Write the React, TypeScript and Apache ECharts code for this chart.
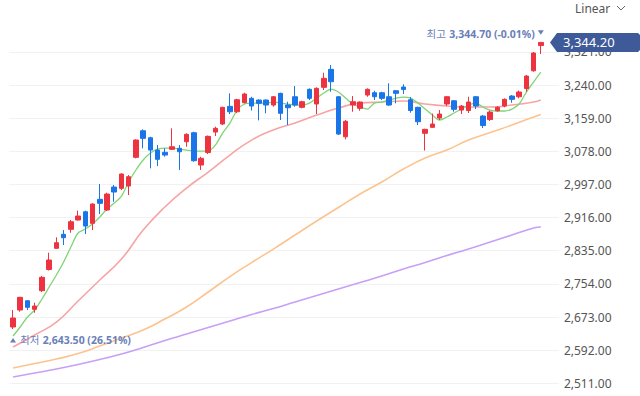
import React, { useEffect, useRef } from 'react';
import * as echarts from 'echarts';

// [open, close, low, high]
const ohlc: number[][] = [
  [2648.6, 2670.5, 2643.5, 2690.1],
  [2690.1, 2721.1, 2686.0, 2722.4],
  [2712.8, 2696.7, 2690.1, 2714.5],
  [2691.8, 2699.9, 2683.5, 2708.0],
  [2737.3, 2770.0, 2734.1, 2773.2],
  [2789.1, 2812.3, 2786.6, 2830.1],
  [2840.9, 2854.6, 2840.4, 2867.8],
  [2875.1, 2866.8, 2849.0, 2885.6],
  [2887.3, 2905.9, 2879.0, 2910.1],
  [2910.1, 2919.8, 2908.9, 2932.8],
  [2930.3, 2895.4, 2875.8, 2932.8],
  [2902.0, 2949.2, 2885.6, 2950.9],
  [2960.7, 2950.9, 2924.7, 2998.0],
  [2934.5, 2973.6, 2932.1, 2976.8],
  [2990.7, 2978.5, 2954.8, 2995.6],
  [2987.5, 3022.5, 2983.4, 3024.2],
  [2993.2, 3015.9, 2971.2, 3020.0],
  [3063.3, 3105.6, 3060.9, 3107.3],
  [3128.3, 3109.7, 3085.3, 3131.7],
  [3111.2, 3081.1, 3036.4, 3113.6],
  [3081.1, 3058.4, 3042.0, 3093.4],
  [3075.5, 3068.9, 3064.8, 3085.3],
  [3082.8, 3089.2, 3081.1, 3134.2],
  [3085.3, 3077.0, 3032.3, 3093.4],
  [3101.4, 3119.5, 3089.2, 3122.0],
  [3123.4, 3055.0, 3052.5, 3125.9],
  [3044.5, 3060.9, 3032.3, 3064.8],
  [3075.0, 3114.6, 3071.4, 3116.6],
  [3125.1, 3134.2, 3115.4, 3138.1],
  [3144.7, 3185.5, 3142.2, 3187.0],
  [3187.9, 3174.7, 3169.1, 3219.7],
  [3174.7, 3204.1, 3171.6, 3206.5],
  [3196.7, 3218.0, 3195.3, 3221.2],
  [3207.5, 3188.7, 3177.7, 3211.4],
  [3203.3, 3195.3, 3153.7, 3205.0],
  [3203.3, 3191.1, 3170.8, 3205.0],
  [3191.1, 3211.4, 3187.0, 3213.1],
  [3219.7, 3170.8, 3154.5, 3221.2],
  [3191.1, 3184.5, 3142.2, 3199.2],
  [3211.4, 3191.1, 3187.0, 3237.6],
  [3185.5, 3199.2, 3183.1, 3201.6],
  [3229.5, 3207.5, 3203.3, 3231.9],
  [3193.6, 3231.9, 3169.1, 3234.4],
  [3234.4, 3256.4, 3227.8, 3270.1],
  [3278.4, 3248.1, 3223.6, 3288.9],
  [3211.4, 3120.2, 3117.8, 3213.1],
  [3113.6, 3151.3, 3107.3, 3154.5],
  [3191.1, 3199.2, 3174.7, 3213.1],
  [3183.1, 3198.5, 3177.2, 3199.7],
  [3215.6, 3229.5, 3211.4, 3231.9],
  [3221.2, 3211.4, 3203.3, 3226.1],
  [3221.2, 3207.5, 3203.3, 3223.6],
  [3211.4, 3191.1, 3188.7, 3244.2],
  [3226.1, 3219.7, 3195.3, 3227.8],
  [3235.1, 3229.0, 3218.0, 3241.7],
  [3204.1, 3177.7, 3172.3, 3210.7],
  [3185.5, 3150.3, 3142.2, 3187.0],
  [3122.0, 3131.7, 3079.9, 3133.2],
  [3136.6, 3144.7, 3136.1, 3170.3],
  [3159.3, 3169.1, 3154.5, 3178.9],
  [3193.6, 3211.4, 3188.7, 3213.1],
  [3201.6, 3180.6, 3174.7, 3203.3],
  [3178.9, 3188.7, 3169.1, 3191.1],
  [3177.7, 3198.5, 3171.6, 3211.4],
  [3211.4, 3188.7, 3181.3, 3213.1],
  [3164.2, 3141.0, 3134.9, 3166.7],
  [3155.7, 3174.0, 3152.0, 3177.7],
  [3177.2, 3185.5, 3174.7, 3188.7],
  [3188.7, 3205.0, 3185.5, 3207.5],
  [3213.1, 3205.0, 3196.7, 3215.6],
  [3211.4, 3222.9, 3207.5, 3226.6],
  [3231.4, 3262.0, 3223.6, 3264.4],
  [3274.9, 3318.2, 3272.5, 3320.7],
  [3336.5, 3344.2, 3315.8, 3344.7],
];

const ma5 = [
  2626.6, 2648.6, 2673.0, 2690.1, 2717.0, 2746.3, 2775.6, 2807.4, 2844.1, 2878.3,
  2888.1, 2900.3, 2917.4, 2936.9, 2951.6, 2968.7, 3002.9, 3032.3, 3056.7, 3073.8,
  3083.6, 3086.0, 3086.0, 3083.6, 3081.1, 3078.7, 3078.7, 3078.7, 3093.4, 3122.7,
  3147.1, 3178.9, 3193.6, 3196.0, 3196.0, 3196.0, 3198.5, 3196.0, 3193.6, 3191.1,
  3191.1, 3196.0, 3208.2, 3220.4, 3230.2, 3222.9, 3208.2, 3193.6, 3186.2, 3181.3,
  3196.0, 3198.5, 3203.3, 3208.2, 3210.7, 3208.2, 3196.0, 3181.3, 3166.7, 3154.5,
  3161.8, 3171.6, 3181.3, 3191.1, 3196.0, 3186.2, 3178.9, 3176.5, 3176.5, 3181.3,
  3193.6, 3222.9, 3247.3, 3271.8,
];

// [candle index, value]
const ma20: number[][] = [
  [0, 2599.6], [3, 2629.0], [6, 2660.7], [9, 2712.1], [12, 2763.4], [15, 2814.7],
  [18, 2885.6], [21, 2941.8], [24, 2988.2], [27, 3027.3], [30, 3068.9], [33, 3105.5],
  [36, 3130.0], [39, 3147.1], [42, 3166.6], [45, 3183.7], [48, 3196.0], [51, 3198.4],
  [54, 3200.9], [57, 3193.5], [60, 3188.6], [63, 3186.2], [66, 3186.2], [69, 3191.1],
  [72, 3198.4], [73, 3203.3],
];
const ma60: number[][] = [
  [0, 2548.3], [3, 2559.3], [6, 2570.3], [9, 2583.7], [12, 2602.1], [15, 2621.6],
  [18, 2641.2], [21, 2668.1], [24, 2697.4], [27, 2734.1], [30, 2771.9], [33, 2806.1],
  [36, 2839.1], [39, 2873.4], [42, 2907.6], [45, 2940.6], [48, 2973.6], [51, 3002.9],
  [54, 3034.7], [57, 3061.5], [60, 3081.1], [63, 3105.5], [66, 3123.9], [69, 3142.2],
  [72, 3161.8], [73, 3167.9],
];
const ma120: number[][] = [
  [0, 2526.3], [3, 2536.1], [6, 2545.9], [9, 2556.9], [12, 2569.1], [15, 2582.5],
  [18, 2598.4], [21, 2615.5], [24, 2631.4], [27, 2647.3], [30, 2663.2], [33, 2679.1],
  [36, 2693.7], [39, 2709.6], [42, 2725.5], [45, 2741.4], [48, 2757.3], [51, 2773.2],
  [54, 2790.3], [57, 2806.1], [60, 2823.3], [63, 2839.1], [66, 2856.3], [69, 2873.4],
  [72, 2890.5], [73, 2892.9],
];

const categories = ohlc.map((_, i) => String(i)).concat(['', '']);
const yMin = 2511;
const yMax = 3321;
const yStep = 81;
const highIndex = 73;
const highValue = 3344.7;
const highText = '3,344.70 (-0.01%)';
const lowIndex = 0;
const lowValue = 2643.5;
const lowText = '2,643.50 (26.51%)';
const lastClose = 3344.2;
const lastCloseText = '3,344.20';

const RED = '#ee3340';
const BLUE = '#1a76e8';
const NOTE = '#6a7fb9';
const FONT = "'Noto Sans', 'Noto Sans CJK KR', sans-serif";

export default function App() {
  const ref = useRef<HTMLDivElement>(null);
  useEffect(() => {
    if (!ref.current) return;
    const chart = echarts.init(ref.current, null, { renderer: 'svg' });
    const lineBase = { type: 'line', showSymbol: false, symbol: 'none', clip: false, silent: true, connectNulls: true } as any;
    chart.setOption({
      animation: false,
      backgroundColor: '#ffffff',
      grid: { left: 9.4, right: 81.1, top: 51.9, bottom: 12.7, containLabel: false },
      xAxis: {
        type: 'category',
        data: categories,
        boundaryGap: true,
        show: false,
      },
      yAxis: {
        type: 'value',
        position: 'right',
        min: yMin,
        max: yMax,
        interval: yStep,
        axisLine: { show: false },
        axisTick: { show: false },
        splitLine: { lineStyle: { color: '#f1f1f3', width: 1 } },
        axisLabel: {
          color: '#555',
          fontSize: 12,
          fontFamily: FONT,
          margin: 5,
          formatter: (v: number) =>
            v.toLocaleString('en-US', { minimumFractionDigits: 2, maximumFractionDigits: 2 }),
        },
      },
      series: [
        {
          type: 'candlestick',
          data: ohlc,
          barWidth: 5,
          clip: false,
          itemStyle: { color: RED, color0: BLUE, borderColor: RED, borderColor0: BLUE, borderWidth: 1 },
          z: 5,
        },
        { ...lineBase, data: ma120, smooth: true, lineStyle: { color: '#c7a0f6', width: 1.6 }, z: 2 },
        { ...lineBase, data: ma60, smooth: true, lineStyle: { color: '#fcc38e', width: 1.6 }, z: 2 },
        { ...lineBase, data: ma20, smooth: true, lineStyle: { color: '#f8a4a4', width: 1.6 }, z: 2 },
        { ...lineBase, data: ma5, smooth: 0.3, lineStyle: { color: '#80d476', width: 1.3 }, z: 3 },
      ],
    });

    const px = (i: number, v: number) => chart.convertToPixel({ seriesIndex: 0 }, [i, v]) as number[];
    const hi = px(highIndex, highValue);
    const lo = px(lowIndex, lowValue);
    const lc = px(highIndex, lastClose);
    const yc = lc[1];
    const tipX = 550;

    chart.setOption({
      graphic: [
        {
          type: 'text',
          x: 575,
          y: 8,
          style: { text: 'Linear', font: `12px ${FONT}`, fill: '#555', verticalAlign: 'middle', align: 'left' },
        },
        {
          type: 'polyline',
          shape: { points: [[617, 6], [621, 10], [625, 6]] },
          style: { stroke: '#666', lineWidth: 1, fill: null },
        },
        // high annotation
        {
          type: 'polygon',
          shape: { points: [[hi[0] - 3, hi[1] - 12], [hi[0] + 3, hi[1] - 12], [hi[0], hi[1] - 7.5]] },
          style: { fill: NOTE },
          z: 20,
        },
        {
          type: 'text',
          x: hi[0] - 6,
          y: hi[1] - 8,
          z: 20,
          style: {
            text: '{a|최고} {b|' + highText + '}',
            align: 'right',
            verticalAlign: 'middle',
            rich: {
              a: { fill: NOTE, font: `10.5px ${FONT}` },
              b: { fill: NOTE, font: `bold 10.5px ${FONT}` },
            },
          },
        },
        // low annotation
        {
          type: 'polygon',
          shape: { points: [[lo[0] - 3, lo[1] + 13.5], [lo[0] + 3, lo[1] + 13.5], [lo[0], lo[1] + 9]] },
          style: { fill: NOTE },
          z: 20,
        },
        {
          type: 'text',
          x: lo[0] + 7,
          y: lo[1] + 11,
          z: 20,
          style: {
            text: '{a|최저} {b|' + lowText + '}',
            align: 'left',
            verticalAlign: 'middle',
            rich: {
              a: { fill: NOTE, font: `10.5px ${FONT}` },
              b: { fill: NOTE, font: `bold 10.5px ${FONT}` },
            },
          },
        },
        // last price tag
        {
          type: 'polygon',
          z: 30,
          shape: {
            points: [
              [tipX, yc],
              [tipX + 7, yc - 9.5],
              [638, yc - 9.5],
              [640, yc - 7.5],
              [640, yc + 7.5],
              [638, yc + 9.5],
              [tipX + 7, yc + 9.5],
            ],
          },
          style: { fill: '#3e5a98' },
        },
        {
          type: 'text',
          z: 31,
          x: 563,
          y: yc,
          style: { text: lastCloseText, font: `13px ${FONT}`, fill: '#ffffff', verticalAlign: 'middle', align: 'left' },
        },
      ],
    });
    return () => chart.dispose();
  }, []);
  return (
    <div
      ref={ref}
      style={{ position: 'fixed', left: 0, top: 0, width: 640, height: 396, background: '#fff' }}
    />
  );
}
